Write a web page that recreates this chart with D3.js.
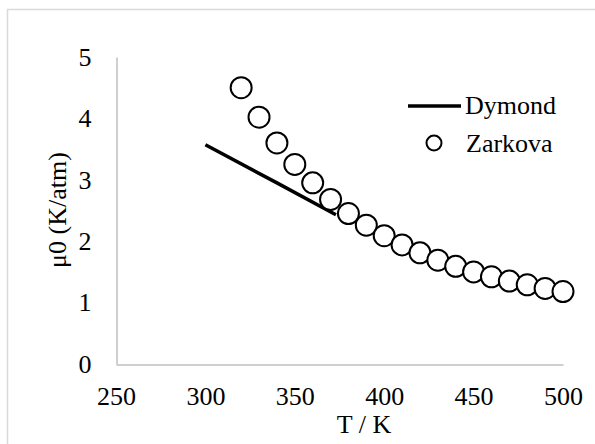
<!DOCTYPE html>
<html>
<head>
<meta charset="utf-8">
<script src="https://cdn.jsdelivr.net/npm/d3@7"></script>
<style>
  body { margin: 0; background: #fff; }
  svg text { font-family: "Liberation Serif", Tinos, "Times New Roman", Times, "DejaVu Serif", serif; }
</style>
</head>
<body>
<script>
// donnees
const zarkovaT = [320, 330, 340, 350, 360, 370, 380, 390, 400, 410, 420, 430, 440, 450, 460, 470, 480, 490, 500];
const zarkovaMu = [4.50, 4.02, 3.60, 3.25, 2.95, 2.68, 2.45, 2.26, 2.09, 1.94, 1.81, 1.69, 1.59, 1.50, 1.42, 1.35, 1.29, 1.23, 1.18];
const dymondT = [300, 340, 373];
const dymondMu = [3.57, 2.95, 2.43];
const xTicks = [250, 300, 350, 400, 450, 500];
const yTicks = [0, 1, 2, 3, 4, 5];

const WIDTH = 595, HEIGHT = 444;
const svg = d3.select("body").append("svg").attr("width", WIDTH).attr("height", HEIGHT);

// cadre exterieur
svg.append("rect").attr("x", 7.5).attr("y", 9.5).attr("width", 600).attr("height", 450)
  .attr("fill", "none").attr("stroke", "#d9d9d9").attr("stroke-width", 1.5);

const x = d3.scaleLinear().domain([250, 500]).range([116, 563]);
const y = d3.scaleLinear().domain([0, 5]).range([364, 57]);

const gx = svg.append("g").attr("transform", "translate(0,364.5)")
  .call(d3.axisBottom(x).tickValues(xTicks).tickFormat(d3.format("d")).tickSize(0).tickSizeOuter(0));
gx.attr("font-family", null).attr("font-size", null);
gx.select(".domain").attr("stroke", "#bfbfbf").attr("stroke-width", 1.5);
gx.selectAll("text").attr("y", 40).attr("dy", 0).attr("font-size", 26).attr("fill", "#000");

const gy = svg.append("g").attr("transform", "translate(116.5,0)")
  .call(d3.axisLeft(y).tickValues(yTicks).tickFormat(d3.format("d")).tickSize(0).tickSizeOuter(0).tickPadding(25));
gy.attr("font-family", null).attr("font-size", null);
gy.select(".domain").attr("stroke", "#bfbfbf").attr("stroke-width", 1.5);
gy.selectAll("text").attr("font-size", 26).attr("fill", "#000");

// courbe Dymond
const ligne = d3.line().x((d, i) => x(dymondT[i])).y(d => y(d));
svg.append("path").datum(dymondMu).attr("d", ligne)
  .attr("fill", "none").attr("stroke", "#000").attr("stroke-width", 3.5);

// points Zarkova
svg.selectAll("circle.z").data(zarkovaMu).enter().append("circle")
  .attr("class", "z")
  .attr("cx", (d, i) => x(zarkovaT[i]))
  .attr("cy", d => y(d))
  .attr("r", 10.5)
  .attr("fill", "#fff").attr("stroke", "#000").attr("stroke-width", 2);

// titres
svg.append("text").attr("x", 364).attr("y", 433).attr("text-anchor", "middle")
  .attr("font-size", 26).text("T / K");
svg.append("text").attr("transform", "translate(66,210) rotate(-90)").attr("text-anchor", "middle")
  .attr("font-size", 26).text("μ0 (K/atm)");

// legende
svg.append("line").attr("x1", 408).attr("x2", 461).attr("y1", 106).attr("y2", 106)
  .attr("stroke", "#000").attr("stroke-width", 3.5);
svg.append("text").attr("x", 465).attr("y", 114).attr("font-size", 26).text("Dymond");
svg.append("circle").attr("cx", 434).attr("cy", 143).attr("r", 7.5)
  .attr("fill", "#fff").attr("stroke", "#000").attr("stroke-width", 2);
svg.append("text").attr("x", 466).attr("y", 152).attr("font-size", 26).text("Zarkova");
</script>
</body>
</html>
